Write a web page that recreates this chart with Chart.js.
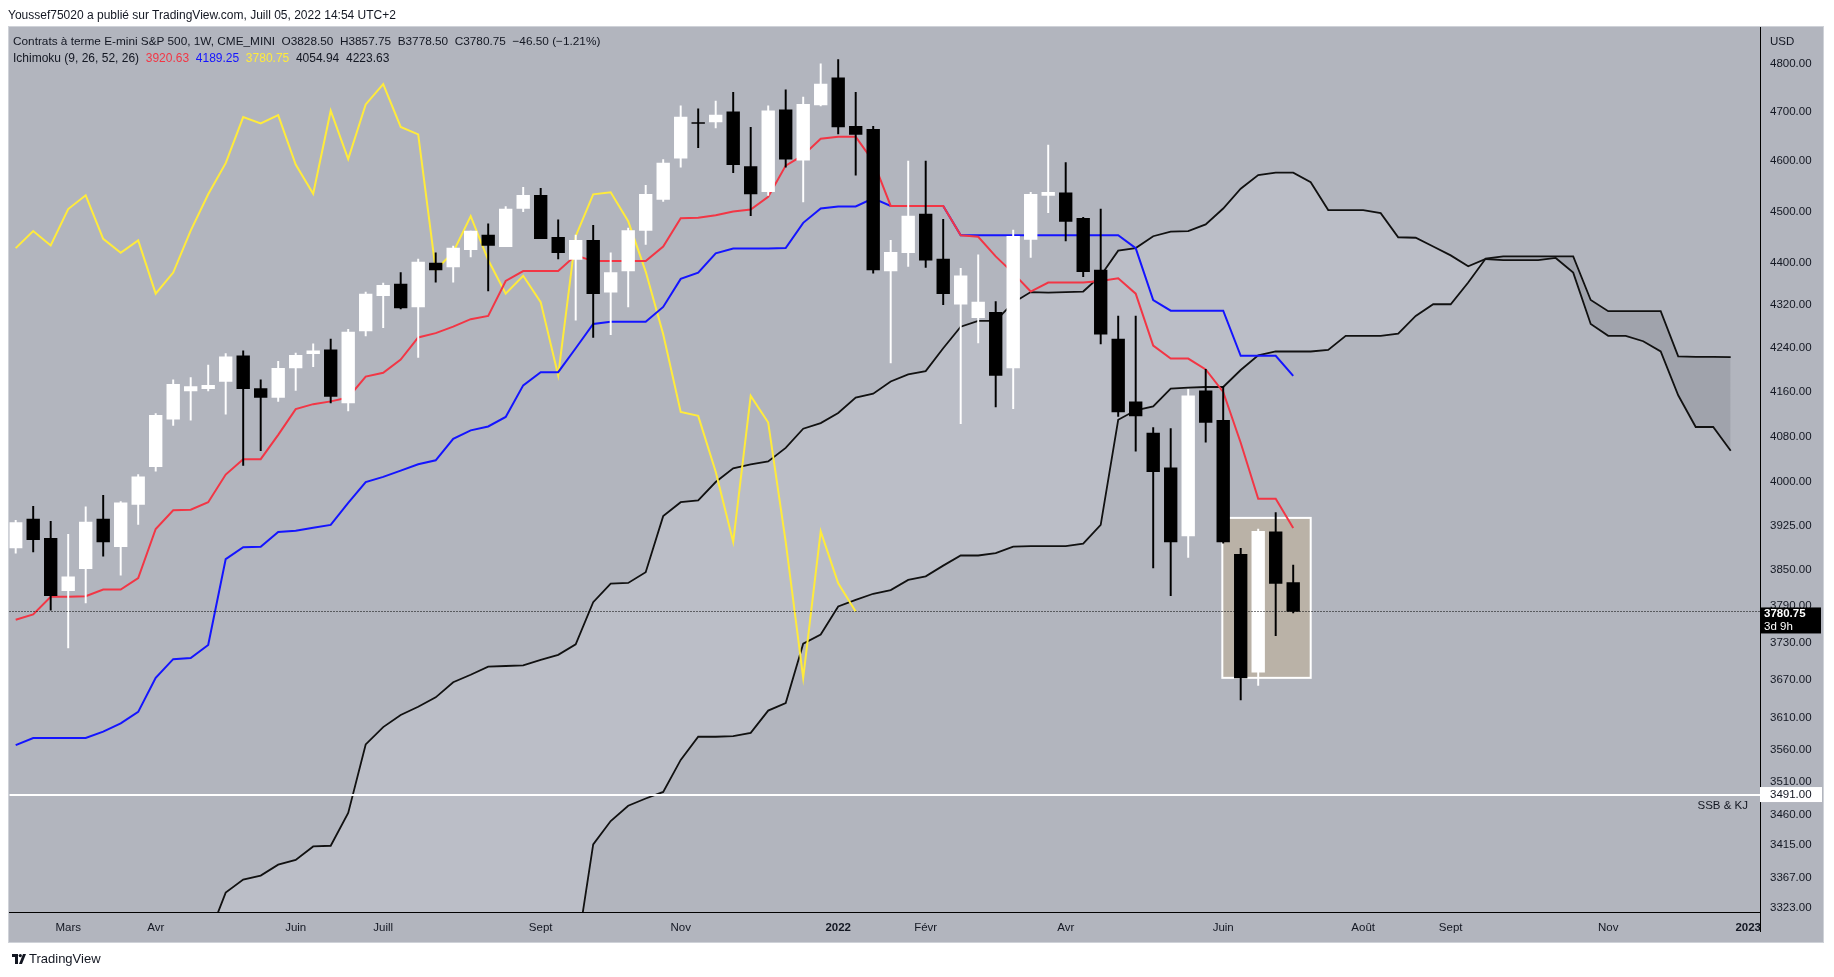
<!DOCTYPE html>
<html><head><meta charset="utf-8">
<script src="https://cdn.jsdelivr.net/npm/chart.js@4.4.0/dist/chart.umd.min.js"></script>
<style>
html,body{margin:0;padding:0;background:#fff;width:1834px;height:977px;overflow:hidden}
#c{position:absolute;left:0;top:0}
.t{position:absolute;white-space:pre;font-family:"Liberation Sans",Arial,sans-serif;font-size:12px;line-height:14px;color:#131722}
.ax{font-size:11.5px}
#logo{position:absolute;left:12px;top:951px;font-family:"Liberation Sans",Arial,sans-serif;font-size:13px;line-height:16px;color:#131722;display:flex;align-items:center}
</style></head><body>
<canvas id="c" width="1834" height="977"></canvas>
<div class="t" style="left:8px;top:8px">Youssef75020 a publié sur TradingView.com, Juill 05, 2022 14:54 UTC+2</div>
<div class="t" id="leg1" style="left:13px;top:34px;font-size:11.8px"></div>
<div class="t" id="leg2" style="left:13px;top:51px"></div>
<div class="t ax" style="left:1770px;top:34px">USD</div>
<div id="logo"><svg width="14" height="10" viewBox="0 0 14 10" style="margin-right:3px"><path d="M0 0h6v10H3V3H0z" fill="#131722"/><circle cx="8.3" cy="1.6" r="1.6" fill="#131722"/><path d="M11 0h3l-4 10H7z" fill="#131722"/></svg>TradingView</div>
<script>
// ---- categories / axis labels (week index 0 = week of 8 Feb 2021) ----
const xTickIdx    = [3, 8, 16, 21, 30, 38, 47, 52, 60, 69, 77, 82, 91, 99];
const xTickLabels = ['Mars','Avr','Juin','Juill','Sept','Nov','2022','Févr','Avr','Juin','Août','Sept','Nov','2023'];
const yTickValues = [4800,4700,4600,4500,4400,4320,4240,4160,4080,4000,3925,3850,3790,3730,3670,3610,3560,3510,3460,3415,3367,3323];

// ---- weekly OHLC ----
const open = [3887,3936,3903,3815,3852,3936,3889,3961,4027,4111, 4162,4166,4179,4226,4166,4150,4204,4230,4237,4140,
  4272,4338,4360,4317,4400,4393,4426,4454,4432,4506, 4532,4450,4407,4444,4345,4385,4463,4524,4606,4678,
  4679,4700,4589,4539,4704,4602,4714,4770,4670,4664, 4385,4420,4495,4408,4322,4297,4307,4204,4446,4532,
  4537,4487,4387,4257,4142,4086,4025,3907,4162,4109, 3876,3682,3914,3828.5];
const high = [3934,3958,3932,3910,3957,3977,3966,4013,4121,4182, 4186,4209,4230,4235,4182,4216,4231,4248,4257,4275,
  4345,4362,4382,4408,4420,4433,4462,4476,4510,4548, 4546,4484,4454,4473,4420,4468,4552,4603,4712,4706,
  4722,4740,4668,4712,4745,4730,4799,4808,4740,4670, 4444,4600,4600,4485,4390,4416,4327,4464,4538,4632,
  4597,4489,4505,4300,4300,4096,4094,4165,4201,4170, 3886,3919,3947,3857.75];
const low = [3878,3880,3783,3721,3795,3873,3841,3927,4019,4100, 4109,4162,4120,4029,4055,4143,4163,4206,4140,4126,
  4263,4278,4313,4223,4364,4364,4412,4347,4432,4500, 4447,4408,4292,4260,4265,4317,4436,4520,4588,4627,
  4667,4577,4492,4532,4588,4519,4712,4655,4572,4381, 4213,4394,4392,4321,4103,4250,4133,4130,4411,4498,
  4443,4374,4248,4116,4054,3853,3807,3871,4070,3895, 3638,3661,3741,3778.5];
const close = [3930,3901,3807,3838,3931,3897,3964,4009,4118,4174, 4170,4172,4224,4166,4150,4203,4227,4235,4152,4270,
  4341,4358,4315,4402,4387,4429,4462,4434,4505,4532, 4447,4420,4444,4342,4382,4463,4534,4596,4689,4676,
  4693,4593,4535,4702,4604,4715,4757,4669,4654,4387, 4421,4491,4406,4342,4376,4326,4190,4452,4534,4538,
  4481,4384,4266,4124,4117,4018,3897,4153,4105,3897, 3673,3915,3827.25,3780.75];

// ---- Ichimoku (9, 26, 52, 26) ----
const tenkan = [3767,3776,3805,3805,3806,3817,3817,3836,3919,3951, 3952,3965,4013,4040,4040,4083,4129,4138,4143,4150,
  4188,4195,4219,4260,4268,4280,4294,4300,4366,4385, 4385,4385,4415,4404,4404,4404,4404,4432,4487,4488,
  4493,4500,4504,4529,4591,4612,4645,4649,4649,4600, 4511,4511,4511,4511,4454,4451,4413,4381,4346,4363,
  4363,4363,4366,4371,4342,4245,4221,4221,4201,4160, 4069,3971,3971,3920.63];
const kijun = [3567,3578,3578,3578,3578,3588,3601,3619,3673,3703, 3705,3726,3868,3888,3889,3914,3916,3921,3926,3964,
  4000,4009,4020,4031,4038,4076,4091,4098,4115,4172, 4196,4196,4240,4285,4289,4289,4289,4317,4370,4382,
  4419,4428,4428,4428,4429,4478,4506,4510,4510,4526, 4511,4511,4511,4511,4454,4454,4454,4454,4454,4454,
  4454,4454,4454,4454,4429,4330,4310,4310,4310,4310, 4226,4226,4226,4189.25];
const chikouShift = 25;
// leading spans, week index 0..98 (null = not drawn)
const senkouA = [null,null,null,null,null,null,null,null,null,null,null,
  3280,3345,3364,3370,3386,3393,3413,3414,3463, 3568,3595,3614,3627,3642,3666,3678,3691,3692,3693,
  3702,3710,3727,3796,3827,3828,3846,3941,3965,3968, 4000,4024,4031,4036,4060,4094,4104,4122,4150,4157,
  4179,4192,4198,4240,4280,4291,4291,4325,4345,4344, 4345,4346,4376,4424,4429,4452,4461,4462,4475,4506,
  4545,4572,4577,4577,4558,4503,4503,4503,4497,4450, 4449,4432,4415,4394,4408,4406,4406,4406,4410,4382,
  4285,4263,4263,4253,4234,4154,4097,4097,4054.94];
const senkouB = [null,null,null,null,null,null,null,null,null,null,null,
  2877,2877,2877,2877,2877,2877,2877,2877,2877, 2877,2877,2877,2877,2877,2877,2877,2877,2877,2877,
  2960,3080,3250,3416,3451,3474,3485,3495,3544,3580, 3580,3581,3586,3621,3633,3728,3743,3789,3800,3810,
  3816,3833,3839,3857,3874,3874,3878,3889,3890,3890, 3890,3894,3926,4110,4127,4134,4166,4168,4169,4169,
  4200,4227,4234,4234,4234,4237,4263,4263,4263,4267, 4300,4322,4322,4363,4409,4413,4413,4413,4413,4413,
  4330,4309,4309,4309,4309,4225,4224,4224,4223.63];

// ---- drawings ----
const boxWeeks = [68.95, 74];
const boxPrices = [3938, 3673];
const ssbLevel = 3491;
const ssbText = 'SSB & KJ';
const barCountdown = '3d 9h';

// ---- legend texts from data ----
const L = close.length - 1;
const chg = close[L] - close[L-1];
const pct = chg / close[L-1] * 100;
const m = v => (v < 0 ? '\u2212' : '') + Math.abs(v).toFixed(2);
document.getElementById('leg1').textContent =
  'Contrats à terme E-mini S&P 500, 1W, CME_MINI  O' + open[L].toFixed(2) + '  H' + high[L].toFixed(2) +
  '  B' + low[L].toFixed(2) + '  C' + close[L].toFixed(2) + '  ' + m(chg) + ' (' + m(pct) + '%)';
const RED = '#f23645', BLUE = '#1414ff', YEL = '#ffeb3b';
document.getElementById('leg2').innerHTML =
  'Ichimoku (9, 26, 52, 26)  <span style="color:' + RED + '">' + tenkan[L].toFixed(2) + '</span>  <span style="color:' + BLUE + '">' +
  kijun[kijun.length-1].toFixed(2) + '</span>  <span style="color:' + YEL + '">' + close[L].toFixed(2) + '</span>  ' +
  senkouA[senkouA.length-1].toFixed(2) + '  ' + senkouB[senkouB.length-1].toFixed(2);

const PANEL = '#b2b5be';
const CLOUD_UP = 'rgba(190,193,201,0.75)';
const CLOUD_DN = '#a0a3ac';
const candleCol = close.map((c, i) => c >= open[i] ? '#ffffff' : '#000000');
const pts = arr => arr.map((v, i) => ({x: i, y: v}));

Chart.defaults.font.family = '"Liberation Sans", Arial, sans-serif';

const deco = {
  id: 'deco',
  beforeDraw(chart) {
    const c = chart.ctx;
    c.save();
    c.fillStyle = '#ffffff'; c.fillRect(0, 0, chart.width, chart.height);
    c.fillStyle = PANEL; c.fillRect(9, 27, 1814, 915);
    c.strokeStyle = '#cfd2d8'; c.lineWidth = 1; c.strokeRect(8.5, 26.5, 1815, 916);
    c.restore();
  },
  beforeDatasetsDraw(chart) {
    const {x, y} = chart.scales, c = chart.ctx;
    const l = x.getPixelForValue(boxWeeks[0]), r = x.getPixelForValue(boxWeeks[1]);
    const t = y.getPixelForValue(boxPrices[0]), b = y.getPixelForValue(boxPrices[1]);
    c.save();
    c.fillStyle = '#bab2a7'; c.fillRect(l, t, r - l, b - t);
    c.strokeStyle = '#ffffff'; c.lineWidth = 2; c.strokeRect(l, t, r - l, b - t);
    c.restore();
  },
  afterDatasetsDraw(chart) {
    const {x, y} = chart.scales, c = chart.ctx, a = chart.chartArea;
    c.save();
    const ys = Math.round(y.getPixelForValue(ssbLevel));
    c.strokeStyle = '#ffffff'; c.lineWidth = 2;
    c.beginPath(); c.moveTo(a.left, ys); c.lineTo(a.right, ys); c.stroke();
    c.fillStyle = '#131722'; c.font = '11.5px "Liberation Sans", Arial, sans-serif';
    c.textAlign = 'right'; c.textBaseline = 'middle';
    c.fillText(ssbText, a.right - 12, ys + 11);
    const yp = Math.round(y.getPixelForValue(close[L])) + 0.5;
    c.strokeStyle = '#000000'; c.lineWidth = 1; c.setLineDash([1, 2]);
    c.beginPath(); c.moveTo(a.left, yp); c.lineTo(a.right, yp); c.stroke();
    c.restore();
  },
  afterDraw(chart) {
    const {y} = chart.scales, c = chart.ctx, a = chart.chartArea;
    c.save();
    c.strokeStyle = '#000'; c.lineWidth = 1;
    c.beginPath(); c.moveTo(a.right + 0.5, a.bottom); c.lineTo(a.right + 0.5, 932); c.stroke();
    // last price label
    const yp = y.getPixelForValue(close[L]);
    c.fillStyle = '#000000'; c.fillRect(a.right, yp - 4, 61, 26);
    c.fillStyle = '#ffffff'; c.textAlign = 'left'; c.textBaseline = 'middle';
    c.font = 'bold 11.5px "Liberation Sans", Arial, sans-serif';
    c.fillText(close[L].toFixed(2), a.right + 4, yp + 2.5);
    c.font = '11.5px "Liberation Sans", Arial, sans-serif';
    c.fillText(barCountdown, a.right + 4, yp + 15);
    // SSB label
    const ys = y.getPixelForValue(ssbLevel);
    c.fillStyle = '#ffffff'; c.fillRect(a.right, ys - 7.5, 62, 15);
    c.fillStyle = '#131722';
    c.fillText(ssbLevel.toFixed(2), a.right + 10, ys + 0.5);
    c.restore();
  }
};

new Chart(document.getElementById('c'), {
  type: 'line',
  data: {
    datasets: [
      {type: 'bar', label: 'body', data: close.map((v, i) => ({x: i, y: [open[i], v]})),
       backgroundColor: candleCol, borderWidth: 0, barThickness: 12.7, grouped: false, order: 0},
      {type: 'bar', label: 'wick', data: close.map((v, i) => ({x: i, y: [low[i], high[i]]})),
       backgroundColor: candleCol, borderWidth: 0, barThickness: 1.3, grouped: false, order: 1},
      {label: 'Tenkan', data: pts(tenkan), borderColor: RED, borderWidth: 2, pointRadius: 0, fill: false, order: 2},
      {label: 'Kijun', data: pts(kijun), borderColor: BLUE, borderWidth: 2, pointRadius: 0, fill: false, order: 3},
      {label: 'Chikou', data: pts(close.slice(chikouShift)), borderColor: YEL, borderWidth: 2, pointRadius: 0, fill: false, order: 4},
      {label: 'Senkou A', data: pts(senkouA), borderColor: '#111111', borderWidth: 1.8, pointRadius: 0,
       fill: {target: 6, above: CLOUD_UP, below: CLOUD_DN}, order: 5},
      {label: 'Senkou B', data: pts(senkouB), borderColor: '#111111', borderWidth: 1.8, pointRadius: 0, fill: false, order: 6}
    ]
  },
  options: {
    responsive: false, animation: false, devicePixelRatio: 1,
    layout: {padding: {left: 9.5, right: 11, top: 27, bottom: 35}},
    plugins: {legend: {display: false}, tooltip: {enabled: false}, filler: {propagate: false, drawTime: 'beforeDatasetsDraw'}},
    elements: {line: {tension: 0}},
    scales: {
      x: {
        type: 'linear', position: 'bottom', min: -0.354, max: 99.674, offset: false,
        grid: {display: false, drawTicks: false}, border: {display: true, color: '#000000', width: 1},
        afterBuildTicks: s => { s.ticks = xTickIdx.map(v => ({value: v})); },
        afterFit: s => { s.height = 30; },
        ticks: {autoSkip: false, maxRotation: 0, padding: 9, color: '#131722',
          callback: (v, i) => xTickLabels[i],
          font: ctx => ({size: 11.5, weight: /^\d{4}$/.test(xTickLabels[ctx.index] || '') ? 'bold' : 'normal'})}
      },
      y: {
        type: 'logarithmic', position: 'right', min: 3316.9, max: 4876.7,
        grid: {display: false, drawTicks: false}, border: {display: true, color: '#000000', width: 1},
        afterBuildTicks: s => { s.ticks = yTickValues.map(v => ({value: v})); },
        afterFit: s => { s.width = 63; },
        ticks: {autoSkip: false, padding: 10, color: '#131722', font: {size: 11.5},
          callback: v => Number(v).toFixed(2)}
      }
    }
  },
  plugins: [deco]
});
</script>
</body></html>
